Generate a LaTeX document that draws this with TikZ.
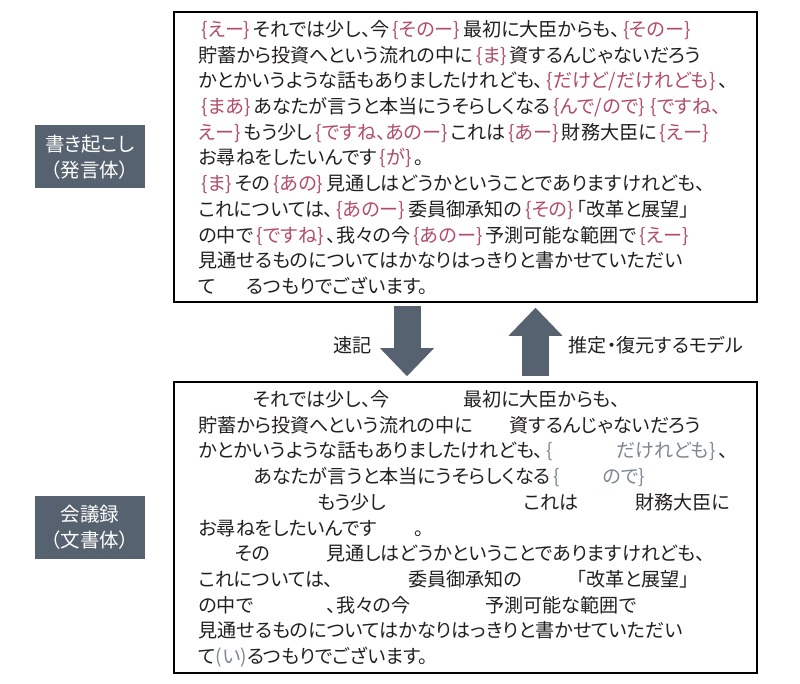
\documentclass[tikz,border=0pt]{standalone}
\usepackage{fontspec}
\newfontfamily\jp[RawFeature=+palt]{Noto Sans CJK JP}
\usepackage{xcolor}
\usepackage{tikz}
\usetikzlibrary{shapes,arrows.meta,positioning}

\definecolor{ink}{HTML}{231F20}
\definecolor{filler}{HTML}{B24C68}
\definecolor{slate}{HTML}{56626F}
\definecolor{gone}{HTML}{7C8794}

% fillers: shown in the transcript, blank in the record
\newcommand{\filler}[1]{\hspace{3pt}\textcolor{filler}{\{#1\}}\hspace{3pt}}
\newcommand{\omitted}[1]{\hspace{3pt}\phantom{\{#1\}}\hspace{3pt}}
\newcommand{\kept}[2]{\hspace{3pt}\textcolor{gone}{\{\phantom{#1}#2\}}\hspace{3pt}}

\tikzset{
    panel/.style={draw, line width=1.6pt, minimum width=583pt},
    body/.style={anchor=north west, align=left, inner sep=0pt},
    tag/.style={fill=slate, text=white, align=center, minimum width=110pt, minimum height=63pt,
        font=\jp\fontsize{19.5pt}{26pt}\selectfont},
    blockarrow/.style={draw=slate, line width=27pt, -{Triangle[length=28pt, width=54pt, line width=0pt]}}
}

\begin{document}
\begin{tikzpicture}[x=1pt, y=1pt, font=\jp\fontsize{19.1pt}{25.7pt}\selectfont, text=ink]
    \useasboundingbox (0,0) rectangle (800,683);

    \node[panel, minimum height=290pt] (tbox) at (465.5,526) {};
    \node[panel, minimum height=291pt] (bbox) at (465.5,155.5) {};

    \node[body] (spoken) at ([shift={(25pt,-9pt)}]tbox.north west) {%
\filler{えー}それでは少し、今\filler{そのー}最初に大臣からも、\filler{そのー}\\
貯蓄から投資へという流れの中に\filler{ま}資するんじゃないだろう\\
かとかいうような話もありましたけれども、\filler{だけど/だけれども}、\\
\filler{まあ}あなたが言うと本当にうそらしくなる\filler{んで/ので}\hspace{3pt}\textcolor{filler}{\{ですね、}\\
\textcolor{filler}{えー\}}\hspace{3pt}もう少し\filler{ですね、あのー}これは\filler{あー}財務大臣に\filler{えー}\\
お尋ねをしたいんです\filler{が}。\\
\filler{ま}その\filler{あの}見通しはどうかということでありますけれども、\\
これについては、\filler{あのー}委員御承知の\filler{その}「改革と展望」\\
の中で\filler{ですね}、我々の今\filler{あのー}予測可能な範囲で\filler{えー}\\
見通せるものについてはかなりはっきりと書かせていただい\\
て\phantom{(い)}るつもりでございます。};

    \node[body] (written) at ([shift={(25pt,-9pt)}]bbox.north west) {%
\omitted{えー}それでは少し、今\omitted{そのー}最初に大臣からも、\\
貯蓄から投資へという流れの中に\omitted{ま}資するんじゃないだろう\\
かとかいうような話もありましたけれども、\kept{だけど/}{だけれども}、\\
\omitted{まあ}あなたが言うと本当にうそらしくなる\kept{んで/}{ので}\\
\omitted{ですね、えー}もう少し\omitted{ですね、あのー}これは\omitted{あー}財務大臣に\\
お尋ねをしたいんです\omitted{が}。\\
\omitted{ま}その\omitted{あの}見通しはどうかということでありますけれども、\\
これについては、\omitted{あのー}委員御承知の\omitted{その}「改革と展望」\\
の中で\omitted{ですね}、我々の今\omitted{あのー}予測可能な範囲で\\
見通せるものについてはかなりはっきりと書かせていただい\\
て\textcolor{gone}{(い)}るつもりでございます。};

    \node[tag, left=28pt of tbox] (lspoken) {書き起こし\\（発言体）};
    \node[tag, left=28pt of bbox] (lwritten) {会議録\\（文書体）};

    % block arrows between the two panels
    \coordinate (dn) at (407,0);
    \coordinate (up) at (535.5,0);
    \draw[blockarrow, shorten <=3pt, shorten >=5pt] (tbox.south -| dn) -- (bbox.north -| dn);
    \draw[blockarrow, shorten <=5pt, shorten >=5pt] (bbox.north -| up) -- (tbox.south -| up);

    \node (steno) at (352.5,338) {速記};
    \node (model) at (656,338) {推定・復元するモデル};
\end{tikzpicture}
\end{document}
